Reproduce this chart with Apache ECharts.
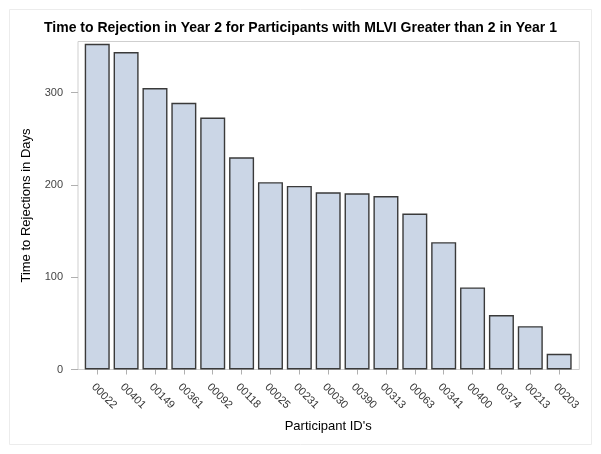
<!DOCTYPE html>
<html>
<head>
<meta charset="utf-8">
<script src="https://cdn.jsdelivr.net/npm/echarts@6/dist/echarts.min.js"></script>
<style>
html,body{margin:0;padding:0;background:#fff;}
#c{width:601px;height:454px;}
</style>
</head>
<body>
<div id="c"></div>
<script>
const participants = ['00022','00401','00149','00361','00092','00118','00025','00231','00030','00390','00313','00063','00341','00400','00374','00213','00203'];
const daysToRejection = [353, 344, 305, 289, 273, 230, 203, 199, 192, 191, 188, 169, 138, 89, 59, 47, 17];
const yTicks = [0, 100, 200, 300];

const FONT = 'Liberation Sans, Arial, sans-serif';
const chart = echarts.init(document.getElementById('c'), null, {renderer: 'canvas'});
chart.setOption({
  animation: false,
  backgroundColor: '#fff',
  title: {
    text: 'Time to Rejection in Year 2 for Participants with MLVI Greater than 2 in Year 1',
    left: 'center',
    top: 16,
    textStyle: {fontFamily: FONT, fontSize: 14, fontWeight: 'bold', color: '#000'}
  },
  graphic: [{
    type: 'rect',
    shape: {x: 9.5, y: 9.5, width: 582, height: 435},
    style: {fill: 'none', stroke: '#ececec', lineWidth: 1},
    silent: true
  }],
  grid: [
    {left: 82.8, right: 27.4, top: 41.5, bottom: 84.5, containLabel: false},
    {left: 78, right: 21.7, top: 41.5, bottom: 84.5, show: true, borderColor: '#cfcfcf', borderWidth: 1, backgroundColor: 'transparent', z: 0}
  ],
  xAxis: [
    {
      type: 'category',
      gridIndex: 0,
      data: participants,
      name: "Participant ID's",
      nameLocation: 'middle',
      nameGap: 50,
      nameTextStyle: {fontFamily: FONT, fontSize: 13, color: '#000'},
      axisLine: {show: false},
      axisTick: {show: true, alignWithLabel: true, length: 5, lineStyle: {color: '#b0b0b0'}},
      axisLabel: {rotate: -45, margin: 12, verticalAlign: 'top', fontFamily: FONT, fontSize: 11, color: '#333', interval: 0}
    },
    {type: 'value', gridIndex: 1, show: false}
  ],
  yAxis: [
    {
      type: 'value',
      gridIndex: 0,
      min: 0,
      max: 355.5,
      offset: 4.8,
      name: 'Time to Rejections in Days',
      nameLocation: 'middle',
      nameGap: 45,
      nameTextStyle: {fontFamily: FONT, fontSize: 13, color: '#000'},
      axisLine: {show: false},
      splitLine: {show: false},
      axisTick: {show: true, length: 7, lineStyle: {color: '#b0b0b0'}, customValues: yTicks},
      axisLabel: {margin: 15, fontFamily: FONT, fontSize: 11, color: '#444', customValues: yTicks}
    },
    {type: 'value', gridIndex: 1, show: false}
  ],
  series: [{
    type: 'bar',
    xAxisIndex: 0,
    yAxisIndex: 0,
    data: daysToRejection,
    barCategoryGap: '13.4%',
    itemStyle: {color: '#cbd6e6', borderColor: '#3a3a3a', borderWidth: 1.4},
    z: 2
  }]
});
</script>
</body>
</html>
